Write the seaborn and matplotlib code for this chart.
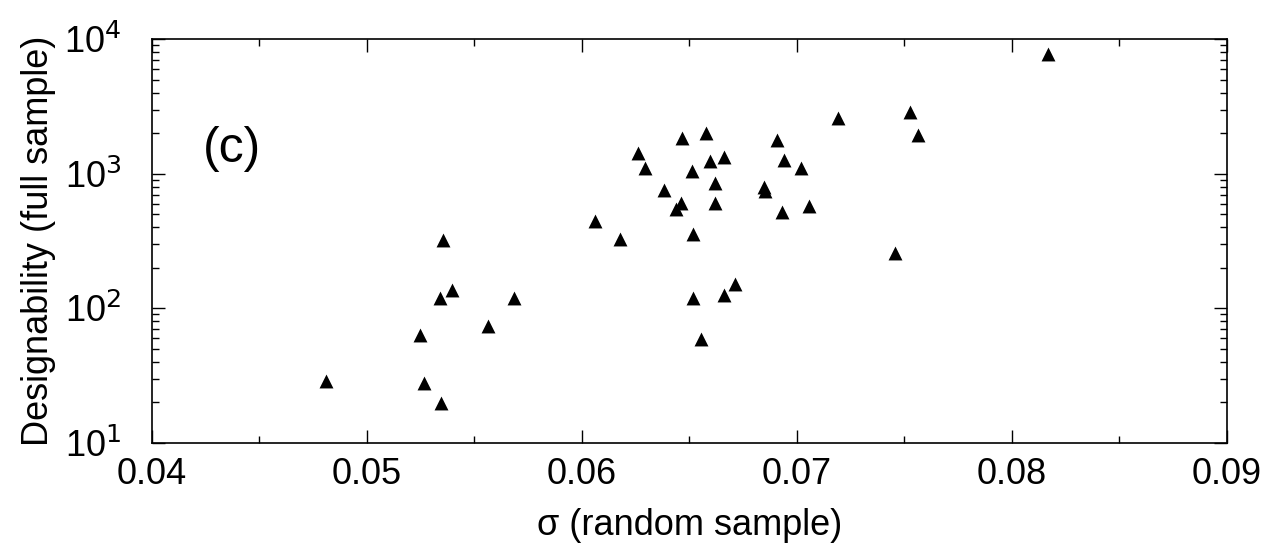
import numpy as np
import pandas as pd
import matplotlib
matplotlib.use("Agg")
import matplotlib.pyplot as plt
from matplotlib.ticker import LogLocator, MultipleLocator, NullFormatter
import seaborn as sns

# values
sigma = [0.04809, 0.05247, 0.05265, 0.05342, 0.05347, 0.05353, 0.05395, 0.05563,
         0.05685, 0.06063, 0.06178, 0.06260, 0.06294, 0.06381, 0.06440, 0.06462,
         0.06465, 0.06514, 0.06518, 0.06518, 0.06556, 0.06577, 0.06595, 0.06619,
         0.06621, 0.06660, 0.06663, 0.06714, 0.06848, 0.06854, 0.06910, 0.06933,
         0.06941, 0.07020, 0.07057, 0.07191, 0.07459, 0.07527, 0.07566, 0.08167]
designability = [28.8, 63, 28, 120, 19.8, 321, 136, 74,
                 120, 448, 327, 1433, 1097, 753, 544, 603,
                 1852, 1052, 358, 120, 59, 1996, 1250, 858,
                 606, 1324, 126, 151, 796, 744, 1790, 516,
                 1264, 1109, 572, 2595, 256, 2891, 1940, 7762]

df = pd.DataFrame({"sigma": sigma, "designability": designability})

sns.set_style("ticks")
plt.rcParams["font.family"] = ["Liberation Sans", "DejaVu Sans"]
plt.rcParams["mathtext.default"] = "regular"
plt.rcParams["text.color"] = "black"
plt.rcParams["axes.labelcolor"] = "black"

fig = plt.figure(figsize=(12.67, 5.48), dpi=100)
ax = fig.add_axes([0.1197, 0.1922, 0.8485, 0.7361])

sns.scatterplot(data=df, x="sigma", y="designability", marker="^", s=100,
                color="black", linewidth=0, ax=ax, legend=False)

ax.set_yscale("log")
ax.set_xlim(0.04, 0.09)
ax.set_ylim(10, 1e4)

ax.xaxis.set_major_locator(MultipleLocator(0.01))
ax.xaxis.set_minor_locator(MultipleLocator(0.005))
ax.xaxis.set_major_formatter(plt.FuncFormatter(lambda v, p: f"{v:.2f}"))
ax.yaxis.set_major_locator(LogLocator(base=10, numticks=10))
ax.yaxis.set_minor_locator(LogLocator(base=10, subs=np.arange(2, 10), numticks=20))
# larger superscript than mathtext default, like the reference
ax.yaxis.set_major_formatter(plt.FuncFormatter(
    lambda v, p: r"$10^{\mathsf{%d}}$" % round(np.log10(v))))
ax.yaxis.set_minor_formatter(NullFormatter())

ax.tick_params(which="both", direction="in", top=True, right=True, width=1.0,
               labelsize=26, colors="black")
ax.tick_params(which="major", length=9.5)
ax.tick_params(which="minor", length=5)
ax.tick_params(axis="x", which="major", pad=10)
ax.tick_params(axis="y", which="major", pad=22)
for sp in ax.spines.values():
    sp.set_linewidth(1.2)
    sp.set_color("black")

ax.set_xlabel("σ (random sample)", fontsize=26, labelpad=12)
ax.set_ylabel("Designability (full sample)", fontsize=26, labelpad=6)
ax.text(0.0424, 1233, "(c)", fontsize=36, ha="left", va="baseline")

fig.savefig("out.png", dpi=100)
